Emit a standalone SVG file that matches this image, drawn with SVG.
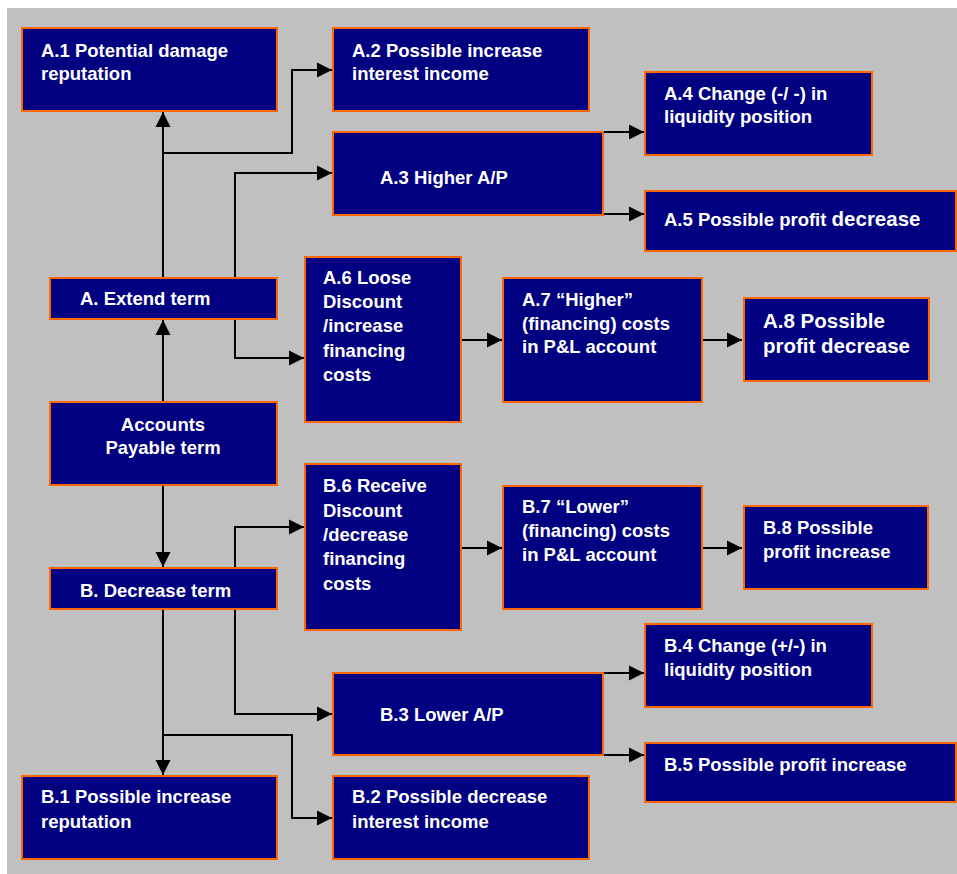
<svg xmlns="http://www.w3.org/2000/svg" width="957" height="874" viewBox="0 0 957 874">
  <defs>
    <marker id="arrow" markerUnits="userSpaceOnUse" markerWidth="16" markerHeight="16" viewBox="0 0 16 16" refX="15" refY="8" orient="auto">
      <path d="M0,0.5 L15,8 L0,15.5 Z" fill="#000"/>
    </marker>
  </defs>
  <style>
    .box { fill: #000080; stroke: #FF6600; stroke-width: 2; }
    .lbl { fill: #FFFFFF; font-family: "Liberation Sans", Arial, Helvetica, sans-serif; font-weight: bold; font-size: 18.5px; }
    .big { font-size: 20.5px; }
    .mid { text-anchor: middle; }
    .wire { fill: none; stroke: #000; stroke-width: 2; marker-end: url(#arrow); }
  </style>

  <rect x="7" y="8" width="950" height="866" fill="#C0C0C0"/>

  <!-- connectors -->
  <g id="connectors">
    <path class="wire" d="M163,278 V112"/>
    <path class="wire" d="M163,153 H292 V70 H332"/>
    <path class="wire" d="M235,278 V173 H332"/>
    <path class="wire" d="M235,319 V358 H304"/>
    <path class="wire" d="M603,132 H644"/>
    <path class="wire" d="M603,214 H644"/>
    <path class="wire" d="M461,340 H502"/>
    <path class="wire" d="M702,340 H742"/>
    <path class="wire" d="M163,402 V320"/>
    <path class="wire" d="M163,485 V567"/>
    <path class="wire" d="M235,568 V527 H304"/>
    <path class="wire" d="M461,548 H502"/>
    <path class="wire" d="M702,548 H742"/>
    <path class="wire" d="M235,610 V714 H332"/>
    <path class="wire" d="M163,610 V775"/>
    <path class="wire" d="M163,735 H292 V818 H332"/>
    <path class="wire" d="M603,673 H644"/>
    <path class="wire" d="M603,755 H644"/>
  </g>

  <!-- root -->
  <g id="accounts-payable">
    <rect class="box" x="50" y="402" width="227" height="83"/>
    <text class="lbl mid" x="163" y="431">Accounts</text>
    <text class="lbl mid" x="163" y="454">Payable term</text>
  </g>

  <!-- branch A -->
  <g id="a-extend">
    <rect class="box" x="50" y="278" width="227" height="41"/>
    <text class="lbl" x="80" y="305">A. Extend term</text>
  </g>
  <g id="a1">
    <rect class="box" x="22" y="28" width="255" height="83"/>
    <text class="lbl" x="41" y="57">A.1 Potential damage</text>
    <text class="lbl" x="41" y="80">reputation</text>
  </g>
  <g id="a2">
    <rect class="box" x="333" y="28" width="256" height="83"/>
    <text class="lbl" x="352" y="57">A.2 Possible increase</text>
    <text class="lbl" x="352" y="80">interest income</text>
  </g>
  <g id="a3">
    <rect class="box" x="333" y="132" width="270" height="83"/>
    <text class="lbl" x="380" y="184">A.3 Higher A/P</text>
  </g>
  <g id="a4">
    <rect class="box" x="645" y="72" width="227" height="83"/>
    <text class="lbl" x="664" y="100">A.4 Change (-/ -) in</text>
    <text class="lbl" x="664" y="123">liquidity position</text>
  </g>
  <g id="a5">
    <rect class="box" x="645" y="191" width="311" height="60"/>
    <text class="lbl" x="664" y="226">A.5 Possible profit <tspan class="big">decrease</tspan></text>
  </g>
  <g id="a6">
    <rect class="box" x="305" y="257" width="156" height="165"/>
    <text class="lbl" x="323" y="284">A.6 Loose</text>
    <text class="lbl" x="323" y="308">Discount</text>
    <text class="lbl" x="323" y="332">/increase</text>
    <text class="lbl" x="323" y="357">financing</text>
    <text class="lbl" x="323" y="381">costs</text>
  </g>
  <g id="a7">
    <rect class="box" x="503" y="278" width="199" height="124"/>
    <text class="lbl" x="522" y="306">A.7 “Higher”</text>
    <text class="lbl" x="522" y="330">(financing) costs</text>
    <text class="lbl" x="522" y="353">in P&amp;L account</text>
  </g>
  <g id="a8">
    <rect class="box" x="744" y="298" width="185" height="83"/>
    <text class="lbl big" x="763" y="328">A.8 Possible</text>
    <text class="lbl big" x="763" y="353">profit decrease</text>
  </g>

  <!-- branch B -->
  <g id="b-decrease">
    <rect class="box" x="50" y="568" width="227" height="41"/>
    <text class="lbl" x="80" y="597">B. Decrease term</text>
  </g>
  <g id="b6">
    <rect class="box" x="305" y="464" width="156" height="166"/>
    <text class="lbl" x="323" y="492">B.6 Receive</text>
    <text class="lbl" x="323" y="517">Discount</text>
    <text class="lbl" x="323" y="541">/decrease</text>
    <text class="lbl" x="323" y="565">financing</text>
    <text class="lbl" x="323" y="590">costs</text>
  </g>
  <g id="b7">
    <rect class="box" x="503" y="486" width="199" height="123"/>
    <text class="lbl" x="522" y="513">B.7 “Lower”</text>
    <text class="lbl" x="522" y="537">(financing) costs</text>
    <text class="lbl" x="522" y="561">in P&amp;L account</text>
  </g>
  <g id="b8">
    <rect class="box" x="744" y="506" width="184" height="83"/>
    <text class="lbl" x="763" y="534">B.8 Possible</text>
    <text class="lbl" x="763" y="558">profit increase</text>
  </g>
  <g id="b3">
    <rect class="box" x="333" y="673" width="270" height="82"/>
    <text class="lbl" x="380" y="721">B.3 Lower A/P</text>
  </g>
  <g id="b4">
    <rect class="box" x="645" y="624" width="227" height="83"/>
    <text class="lbl" x="664" y="652">B.4 Change (+/-) in</text>
    <text class="lbl" x="664" y="676">liquidity position</text>
  </g>
  <g id="b5">
    <rect class="box" x="645" y="743" width="311" height="59"/>
    <text class="lbl" x="664" y="771">B.5 Possible profit increase</text>
  </g>
  <g id="b1">
    <rect class="box" x="22" y="776" width="255" height="83"/>
    <text class="lbl" x="41" y="803">B.1 Possible increase</text>
    <text class="lbl" x="41" y="828">reputation</text>
  </g>
  <g id="b2">
    <rect class="box" x="333" y="776" width="256" height="83"/>
    <text class="lbl" x="352" y="803">B.2 Possible decrease</text>
    <text class="lbl" x="352" y="828">interest income</text>
  </g>
</svg>
